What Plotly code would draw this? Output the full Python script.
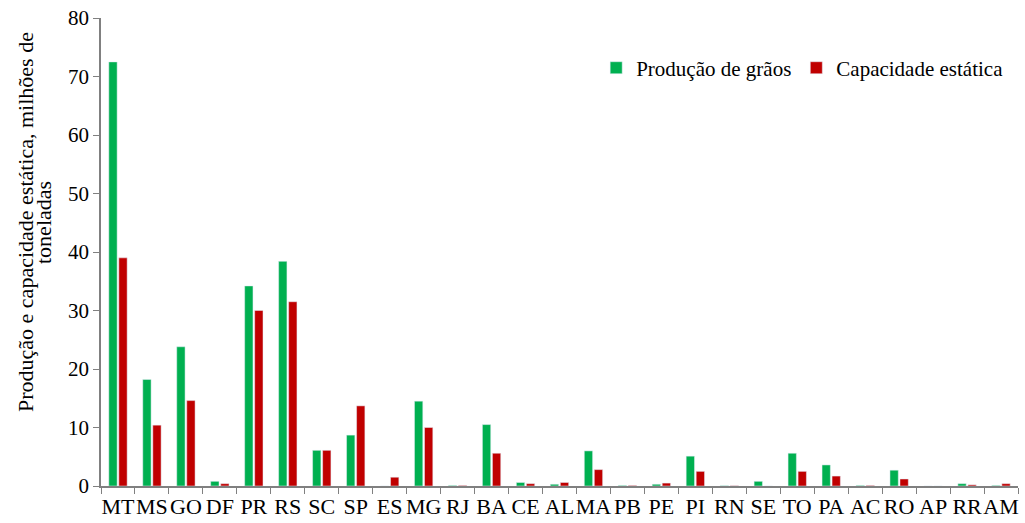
import plotly.graph_objects as go

estados = ["MT", "MS", "GO", "DF", "PR", "RS", "SC", "SP", "ES", "MG", "RJ", "BA", "CE", "AL",
           "MA", "PB", "PE", "PI", "RN", "SE", "TO", "PA", "AC", "RO", "AP", "RR", "AM"]
producao = [72.5, 18.2, 23.8, 0.8, 34.2, 38.4, 6.1, 8.7, 0.0, 14.5, 0.1, 10.5, 0.6, 0.3,
            6.0, 0.1, 0.3, 5.1, 0.05, 0.8, 5.6, 3.6, 0.1, 2.7, 0.0, 0.4, 0.1]
capacidade = [39.0, 10.4, 14.6, 0.4, 30.0, 31.5, 6.1, 13.7, 1.5, 10.0, 0.1, 5.6, 0.4, 0.6,
              2.8, 0.1, 0.5, 2.5, 0.05, 0.0, 2.5, 1.7, 0.1, 1.2, 0.0, 0.2, 0.4]
y_ticks = [0, 10, 20, 30, 40, 50, 60, 70, 80]
titulo_y = ["Produção e capacidade estática, milhões de", "toneladas"]

fig = go.Figure()
fig.add_trace(go.Bar(x=estados, y=producao, name="Produção de grãos", marker_color="#00B050"))
fig.add_trace(go.Bar(x=estados, y=capacidade, name="Capacidade estática", marker_color="#C00000"))

font = "Liberation Serif"
fig.update_layout(
    width=1025, height=523,
    margin=dict(l=101, r=7, t=18, b=37, autoexpand=False),
    paper_bgcolor="white", plot_bgcolor="white",
    barmode="group", bargap=0.41, bargroupgap=0.17,
    font=dict(family=font, color="black", size=20),
    showlegend=True,
    legend=dict(orientation="h", x=0.54, y=0.893, xanchor="left", yanchor="middle",
                font=dict(size=21, family=font), tracegroupgap=0,
                bgcolor="rgba(0,0,0,0)"),
)
# title line centres (paper coords relative to plot area 101..1018 x, 18..486 y)
for texto, xp in zip(titulo_y, [(25 - 101) / 917, (43 - 101) / 917]):
    fig.add_annotation(text=texto, xref="paper", yref="paper", x=xp, y=(486 - 222) / 468,
                       xanchor="center", yanchor="middle", textangle=-90, showarrow=False,
                       font=dict(size=22, family=font, color="black"))
fig.update_xaxes(showline=True, linecolor="#808080", linewidth=1.5, ticks="outside",
                 tickson="boundaries", ticklen=6, tickcolor="#808080", tickangle=0,
                 tickfont=dict(size=22, family=font), showgrid=False, automargin=False)
fig.update_yaxes(range=[0, 80], tickvals=y_ticks, showline=True, linecolor="#808080",
                 linewidth=1.5, ticks="outside", ticklen=6, tickcolor="#808080",
                 tickfont=dict(size=21, family=font), showgrid=False, zeroline=False,
                 automargin=False, ticklabeloverflow="allow")
fig.write_html("out.html", post_script="document.body.style.margin='0';",
               config={"displayModeBar": False})
